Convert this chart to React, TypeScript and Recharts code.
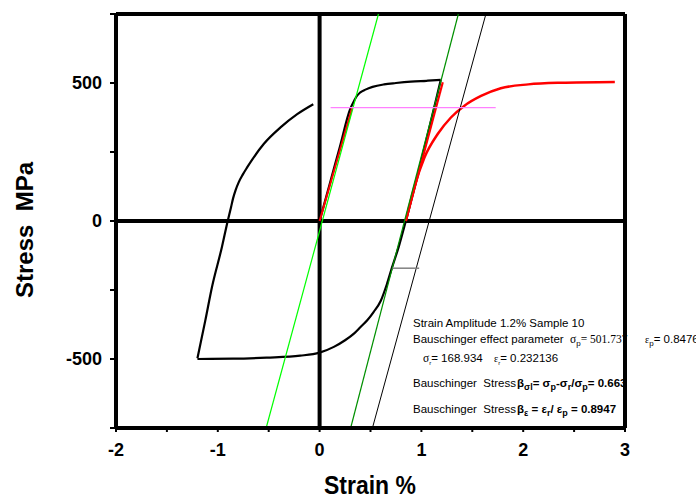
import {
  LineChart,
  Line,
  XAxis,
  YAxis,
  ReferenceLine,
} from "recharts";

// hysteresis loop, split in three branches (each ordered by strain)
const loadStrain = [0, 0.1, 0.2, 0.3, 0.34, 0.37, 0.4, 0.45, 0.52, 0.633, 0.75, 0.897, 1.05, 1.19];
const loadStress = [0, 135, 270, 405, 436, 455, 466, 476, 486, 495, 500, 505, 508, 511];

const compStrain = [
  -1.2, -0.85, -0.52, -0.19, 0.0, 0.14, 0.25, 0.34, 0.4, 0.47, 0.53, 0.6, 0.66, 0.71,
  0.78, 0.847, 1.19,
];
const compStress = [
  -500, -499, -495, -488, -477, -456, -432, -407, -385, -359, -330, -290, -230, -170,
  -90, 0, 511,
];

const reloadStrain = [
  -1.2, -1.123, -1.057, -0.96, -0.909, -0.87, -0.85, -0.825, -0.795, -0.755, -0.712, -0.549,
  -0.384, -0.22, -0.062,
];
const reloadStress = [-497, -361, -239, -95, -10, 50, 82, 112, 140, 168, 194, 279, 339, 387, 423];

// red: elastic part of loading, unloading line and shifted reverse curve
const elasticStrain = [0, 0.32];
const elasticStress = [0, 410];
const unloadRedStrain = [0.847, 1.21];
const unloadRedStress = [0, 503];
const reverseStrain = [0.847, 0.93, 1.03, 1.16, 1.29, 1.42, 1.586, 1.78, 2.05, 2.37, 2.9];
const reverseStress = [0, 122, 230, 315, 375, 417, 453, 481, 495, 501, 504];

// construction lines
const modulusStrain = [-0.525, 0.578];
const modulusStress = [-750, 750];
const unloadStrain = [0.305, 1.363];
const unloadStress = [-750, 750];
const offsetStrain = [0.519, 1.63];
const offsetStress = [-750, 745];
const levelStrain = [0.108, 1.73];
const levelStress = [411, 411];
const markStrain = [0.716, 0.978];
const markStress = [-171, -171];

const xTicks = [-2, -1.5, -1, -0.5, 0, 0.5, 1, 1.5, 2, 2.5, 3];
const yTicks = [-750, -500, -250, 0, 250, 500, 750];

const zip = (xs: number[], ys: number[]) => xs.map((x, i) => ({ x, y: ys[i] }));

const SANS = "Liberation Sans, Arial, sans-serif";
const SERIF = "Liberation Serif, Times New Roman, serif";

function Annotation() {
  return (
    <svg
      width={696}
      height={498}
      style={{ position: "absolute", left: 0, top: 0 }}
    >
      <text
        x={33}
        y={230}
        transform="rotate(-90 33 230)"
        textAnchor="middle"
        fontFamily={SANS}
        fontWeight="bold"
        fontSize={24}
      >
        Stress{"\u00a0\u00a0"}MPa
      </text>
      <text
        x={0}
        y={0}
        transform="translate(370 494) scale(1 1.12)"
        textAnchor="middle"
        fontFamily={SANS}
        fontWeight="bold"
        fontSize={23}
      >
        Strain %
      </text>

      <g fontFamily={SANS} fontSize={11.5} fill="#000">
        <text x={413} y={327}>Strain Amplitude 1.2% Sample 10</text>
        <text x={413} y={343}>
          Bauschinger effect parameter
          <tspan x={570} fontFamily={SERIF}>σ</tspan>
          <tspan dy={3} fontSize={8}>p</tspan>
          <tspan dy={-3} fontFamily={SERIF}>= 501.737</tspan>
        </text>
        <text x={645} y={343}>
          <tspan fontFamily={SERIF} fontSize={10}>ε</tspan>
          <tspan dy={3} fontSize={8}>p</tspan>
          <tspan dy={-3}>= 0.8476</tspan>
        </text>
        <text x={423} y={362}>
          <tspan fontFamily={SERIF}>σ</tspan>
          <tspan dy={3} fontSize={6}>r</tspan>
          <tspan dy={-3}>= 168.934</tspan>
          <tspan x={494} fontFamily={SERIF} fontSize={10}>ε</tspan>
          <tspan dy={3} fontSize={6}>r</tspan>
          <tspan dy={-3}>= 0.232136</tspan>
        </text>
        <text x={413} y={387}>
          Bauschinger{"\u00a0\u00a0"}Stress
          <tspan x={517} fontWeight="bold">β</tspan>
          <tspan dy={3} fontSize={9} fontWeight="bold">σl</tspan>
          <tspan dy={-3} fontWeight="bold">= σ</tspan>
          <tspan dy={3} fontSize={9} fontWeight="bold">p</tspan>
          <tspan dy={-3} fontWeight="bold">-σ</tspan>
          <tspan dy={3} fontSize={9} fontWeight="bold">r</tspan>
          <tspan dy={-3} fontWeight="bold">/σ</tspan>
          <tspan dy={3} fontSize={9} fontWeight="bold">p</tspan>
          <tspan dy={-3} fontWeight="bold">= 0.663</tspan>
        </text>
        <text x={413} y={413}>
          Bauschinger{"\u00a0\u00a0"}Stress
          <tspan x={517} fontWeight="bold">β</tspan>
          <tspan dy={3} fontSize={9} fontWeight="bold">ε</tspan>
          <tspan dy={-3} fontWeight="bold">{"\u00a0"}= ε</tspan>
          <tspan dy={3} fontSize={9} fontWeight="bold">r</tspan>
          <tspan dy={-3} fontWeight="bold">/ ε</tspan>
          <tspan dy={3} fontSize={9} fontWeight="bold">p</tspan>
          <tspan dy={-3} fontWeight="bold">{"\u00a0"}= 0.8947</tspan>
        </text>
      </g>
    </svg>
  );
}

const tickStyle = { fontSize: 18, fontWeight: "bold", fill: "#000", fontFamily: SANS };

function Curve({
  xs,
  ys,
  color,
  width,
  smooth,
}: {
  xs: number[];
  ys: number[];
  color: string;
  width: number;
  smooth?: boolean;
}) {
  return (
    <Line
      data={zip(xs, ys)}
      dataKey="y"
      type={smooth ? "monotoneX" : "linear"}
      stroke={color}
      strokeWidth={width}
      dot={false}
      activeDot={false}
      isAnimationActive={false}
    />
  );
}

export default function App() {
  return (
    <div
      style={{
        position: "absolute",
        left: 0,
        top: 0,
        width: 696,
        height: 498,
        background: "#fff",
      }}
    >
      <Annotation />
      <div style={{ position: "absolute", left: 0, top: 0 }}>
        <LineChart
          width={696}
          height={498}
          margin={{ top: 14, right: 61, bottom: 40, left: 56 }}
        >
          <XAxis
            type="number"
            dataKey="x"
            domain={[-2, 3]}
            ticks={xTicks}
            interval={0}
            tickFormatter={(v: number) => (Number.isInteger(v) ? String(v) : "")}
            tick={tickStyle}
            tickSize={4}
            tickMargin={11}
            height={30}
            axisLine={{ stroke: "#000", strokeWidth: 4 }}
            tickLine={{ stroke: "#000", strokeWidth: 2 }}
          />
          <YAxis
            type="number"
            dataKey="y"
            domain={[-750, 750]}
            ticks={yTicks}
            interval={0}
            tickFormatter={(v: number) => (v % 500 === 0 && Math.abs(v) < 750 ? String(v) : "")}
            tick={tickStyle}
            tickSize={6}
            tickMargin={8}
            width={60}
            axisLine={{ stroke: "#000", strokeWidth: 4 }}
            tickLine={{ stroke: "#000", strokeWidth: 2 }}
          />
          <YAxis
            yAxisId="r"
            orientation="right"
            type="number"
            domain={[-750, 750]}
            ticks={yTicks}
            interval={0}
            tick={false}
            tickSize={4}
            width={10}
            axisLine={{ stroke: "#000", strokeWidth: 4 }}
            tickLine={{ stroke: "#000", strokeWidth: 2 }}
          />
          <ReferenceLine y={750} stroke="#000" strokeWidth={4} />
          <ReferenceLine y={0} stroke="#000" strokeWidth={4} />
          <ReferenceLine x={0} stroke="#000" strokeWidth={4} />

          {Curve({ xs: loadStrain, ys: loadStress, color: "#000", width: 2.2, smooth: true })}
          {Curve({ xs: compStrain, ys: compStress, color: "#000", width: 2.2, smooth: true })}
          {Curve({ xs: reloadStrain, ys: reloadStress, color: "#000", width: 2.2, smooth: true })}
          {Curve({ xs: elasticStrain, ys: elasticStress, color: "#ff0000", width: 2 })}
          {Curve({ xs: unloadRedStrain, ys: unloadRedStress, color: "#ff0000", width: 2.2 })}
          {Curve({ xs: reverseStrain, ys: reverseStress, color: "#ff0000", width: 2.5, smooth: true })}
          {Curve({ xs: modulusStrain, ys: modulusStress, color: "#00ff00", width: 1.2 })}
          {Curve({ xs: unloadStrain, ys: unloadStress, color: "#009000", width: 1.2 })}
          {Curve({ xs: offsetStrain, ys: offsetStress, color: "#000", width: 1 })}
          {Curve({ xs: levelStrain, ys: levelStress, color: "#ff80ff", width: 1.3 })}
          {Curve({ xs: markStrain, ys: markStress, color: "#808080", width: 1.5 })}
        </LineChart>
      </div>
    </div>
  );
}
